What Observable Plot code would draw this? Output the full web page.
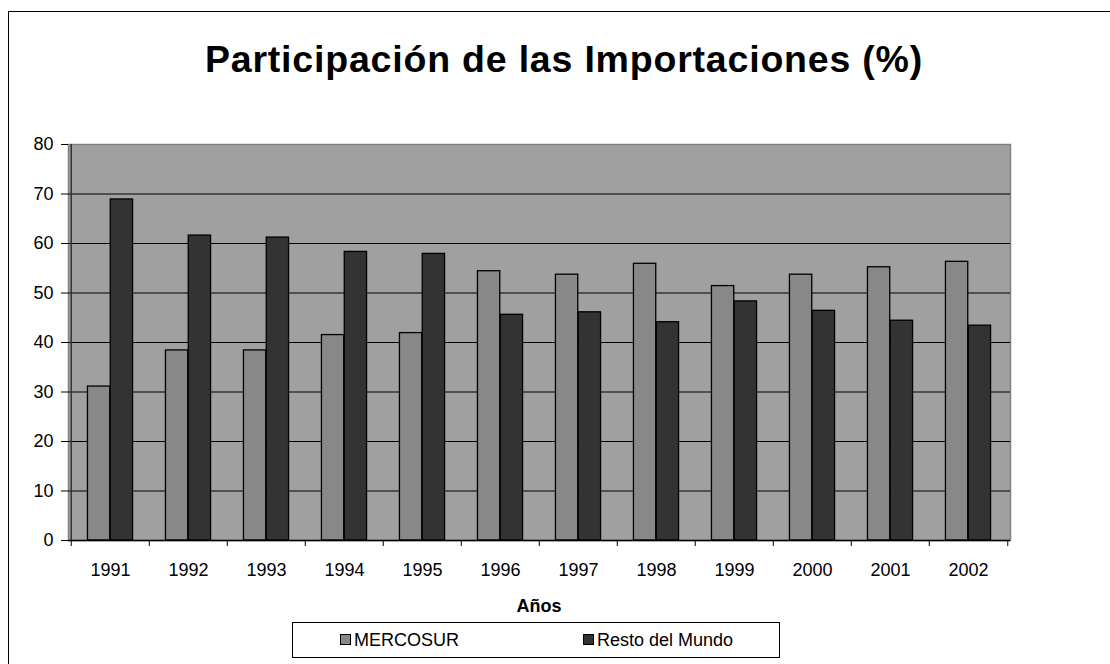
<!DOCTYPE html>
<html>
<head>
<meta charset="utf-8">
<script src="https://cdn.jsdelivr.net/npm/d3@7"></script>
<script src="https://cdn.jsdelivr.net/npm/@observablehq/plot@0.6"></script>
<style>
  html, body { margin: 0; padding: 0; background: #fff; overflow: hidden; }
  #wrap { position: relative; width: 1110px; height: 664px; overflow: hidden; font-family: "Liberation Sans", Arial, sans-serif; }
  #border { position: absolute; left: 8px; top: 11px; width: 1300px; height: 800px; border: 1.5px solid #000; box-sizing: border-box; }
  #title { position: absolute; left: 0; width: 1128px; top: 38px; text-align: center; font-size: 37.5px; font-weight: bold; letter-spacing: 0.8px; color: #000; white-space: nowrap; }
  #chart { position: absolute; left: 0; top: 0; }
  #xlabel { position: absolute; left: 0; width: 1078px; top: 596px; text-align: center; font-size: 18px; font-weight: bold; }
  #legend { position: absolute; left: 292px; top: 622px; width: 488px; height: 36px; border: 1px solid #000; box-sizing: border-box; background: #fff; }
  .item { position: absolute; top: 8px; font-size: 18px; line-height: 18px; white-space: nowrap; }
  .sw { display: inline-block; width: 9px; height: 9px; border: 1px solid #000; margin-right: 3px; vertical-align: 1px; }
</style>
</head>
<body>
<div id="wrap">
  <div id="border"></div>
  <div id="title">Participación de las Importaciones (%)</div>
  <div id="chart"></div>
  <div id="xlabel">Años</div>
  <div id="legend"></div>
</div>
<script>
const years = ["1991","1992","1993","1994","1995","1996","1997","1998","1999","2000","2001","2002"];
const mercosur = [31.1, 38.4, 38.4, 41.5, 41.9, 54.4, 53.7, 55.9, 51.4, 53.7, 55.2, 56.3];
const restoMundo = [68.9, 61.6, 61.2, 58.3, 57.9, 45.6, 46.1, 44.1, 48.3, 46.4, 44.4, 43.4];
const seriesNames = ["MERCOSUR", "Resto del Mundo"];
const seriesColors = ["#888888", "#333333"];
const yTicks = [0, 10, 20, 30, 40, 50, 60, 70, 80];
const gridTicks = [10, 20, 30, 40, 50, 60, 70];

const dataM = years.map((y, i) => ({year: y, value: mercosur[i], series: seriesNames[0]}));
const dataR = years.map((y, i) => ({year: y, value: restoMundo[i], series: seriesNames[1]}));

const W = 1110, H = 664;
const mL = 68, mR = 100, mT = 144, mB = 124;
const band = (W - mL - mR) / years.length;
const barW = 22.8;
const outer = band / 2 - barW;

const chart = Plot.plot({
  width: W,
  height: H,
  marginLeft: mL,
  marginRight: mR,
  marginTop: mT,
  marginBottom: mB,
  style: {fontFamily: "'Liberation Sans', Arial, sans-serif", fontSize: "18px", background: "transparent", color: "#000"},
  x: {domain: years, padding: 0, label: null},
  y: {domain: [0, 80], label: null},
  marks: [
    Plot.frame({fill: "#a0a0a0", stroke: "#808080", strokeWidth: 1.5}),
    Plot.gridY(gridTicks, {stroke: "#000", strokeOpacity: 1, strokeWidth: 1.2}),
    Plot.barY(dataM, {x: "year", y: "value", fill: seriesColors[0], stroke: "#000", strokeWidth: 1.3, insetLeft: outer, insetRight: band / 2}),
    Plot.barY(dataR, {x: "year", y: "value", fill: seriesColors[1], stroke: "#000", strokeWidth: 1.3, insetLeft: band / 2, insetRight: outer}),
    Plot.ruleY([0], {stroke: "#000", strokeWidth: 1.5}),
    Plot.ruleX([years[0]], {stroke: "#333", strokeWidth: 1.5, dx: -band / 2}),
    Plot.axisY({ticks: yTicks, tickSize: 7, tickPadding: 8, label: null, fontSize: 18, stroke: "#000"}),
    Plot.axisX({tickSize: 0, tickPadding: 23, label: null, fontSize: 18}),
    Plot.axisX({tickSize: 6, tickFormat: () => "", label: null, dx: -band / 2, stroke: "#000"}),
    Plot.axisX({ticks: [years[years.length - 1]], tickSize: 6, tickFormat: () => "", label: null, dx: band / 2, stroke: "#000"})
  ]
});
document.getElementById("chart").appendChild(chart);

const legend = document.getElementById("legend");
const positions = [47, 290];
seriesNames.forEach((name, i) => {
  const it = document.createElement("div");
  it.className = "item";
  it.style.left = positions[i] + "px";
  const sw = document.createElement("span");
  sw.className = "sw";
  sw.style.background = seriesColors[i];
  it.appendChild(sw);
  it.appendChild(document.createTextNode(name));
  legend.appendChild(it);
});
</script>
</body>
</html>
